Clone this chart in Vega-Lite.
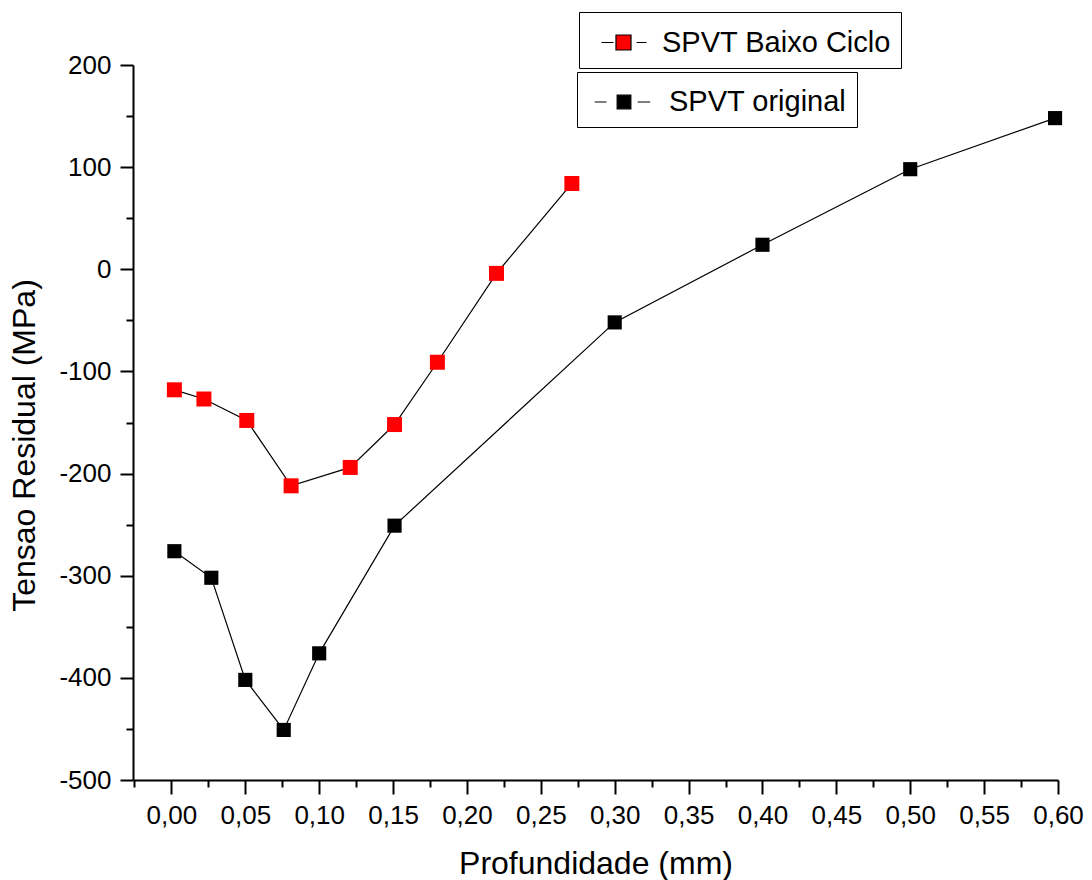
{
  "$schema": "https://vega.github.io/schema/vega-lite/v6.json",
  "width": 925,
  "height": 715,
  "autosize": "none",
  "padding": {"left": 133, "top": 65, "right": 34, "bottom": 100},
  "background": "white",
  "config": {
    "view": {"stroke": null},
    "font": "Liberation Sans",
    "axis": {"grid": false, "labelColor": "black", "titleColor": "black", "domainColor": "black", "tickColor": "black", "labelFont": "Liberation Sans", "titleFont": "Liberation Sans", "titleFontWeight": "normal"}
  },
  "datasets": {
    "original": [
      {"prof": 0.002, "tensao": -276},
      {"prof": 0.027, "tensao": -302},
      {"prof": 0.050, "tensao": -402},
      {"prof": 0.076, "tensao": -451},
      {"prof": 0.100, "tensao": -376},
      {"prof": 0.151, "tensao": -251},
      {"prof": 0.300, "tensao": -52},
      {"prof": 0.400, "tensao": 24},
      {"prof": 0.500, "tensao": 98},
      {"prof": 0.598, "tensao": 148}
    ],
    "baixo": [
      {"prof": 0.002, "tensao": -118},
      {"prof": 0.022, "tensao": -127},
      {"prof": 0.051, "tensao": -148},
      {"prof": 0.081, "tensao": -212},
      {"prof": 0.121, "tensao": -194},
      {"prof": 0.151, "tensao": -152},
      {"prof": 0.180, "tensao": -91},
      {"prof": 0.220, "tensao": -4},
      {"prof": 0.271, "tensao": 84}
    ]
  },
  "layer": [
    {
      "data": {"name": "original"},
      "mark": {"type": "point", "opacity": 0},
      "encoding": {
        "x": {"field": "prof", "type": "quantitative", "scale": {"domain": [-0.026, 0.6], "nice": false, "zero": false},
          "axis": {"orient": "bottom", "values": [-0.025, 0.025, 0.075, 0.125, 0.175, 0.225, 0.275, 0.325, 0.375, 0.425, 0.475, 0.525, 0.575], "labels": false, "domain": false, "tickSize": 7, "tickWidth": 2, "title": null}},
        "y": {"field": "tensao", "type": "quantitative", "scale": {"domain": [-500, 200], "nice": false, "zero": false},
          "axis": {"orient": "left", "values": [-450, -350, -250, -150, -50, 50, 150], "labels": false, "domain": false, "tickSize": 7, "tickWidth": 2, "title": null}}
      }
    },
    {
      "data": {"name": "original"},
      "mark": {"type": "line", "color": "black", "strokeWidth": 1.2},
      "encoding": {
        "x": {"field": "prof", "type": "quantitative",
          "axis": {"orient": "bottom", "values": [0, 0.05, 0.1, 0.15, 0.2, 0.25, 0.3, 0.35, 0.4, 0.45, 0.5, 0.55, 0.6],
            "labelExpr": "replace(format(datum.value, '.2f'), '.', ',')", "labelFontSize": 26, "labelPadding": 8, "labelFlush": false, "labelOverlap": false,
            "tickSize": 14, "tickWidth": 2, "domainWidth": 2,
            "title": "Profundidade (mm)", "titleFontSize": 32, "titleY": 93, "titleBaseline": "alphabetic"}},
        "y": {"field": "tensao", "type": "quantitative",
          "axis": {"orient": "left", "values": [-500, -400, -300, -200, -100, 0, 100, 200], "labelExpr": "'' + datum.value", "labelFontSize": 26, "labelPadding": 9, "labelFlush": false, "labelOverlap": false,
            "tickSize": 13, "tickWidth": 2, "domainWidth": 2,
            "title": "Tensao Residual (MPa)", "titleFontSize": 32, "titleAngle": 270, "titleX": -99, "titleY": 380, "titleAlign": "center", "titleBaseline": "alphabetic"}}
      }
    },
    {
      "data": {"name": "original"},
      "mark": {"type": "point", "shape": "square", "filled": true, "size": 200, "opacity": 1},
      "encoding": {
        "x": {"field": "prof", "type": "quantitative", "axis": null},
        "y": {"field": "tensao", "type": "quantitative", "axis": null},
        "color": {"datum": "SPVT original", "scale": {"range": ["#000000"]},
          "legend": {"orient": "none", "legendX": 444, "legendY": 7, "title": null, "strokeColor": "black", "padding": 10, "symbolOffset": 17,
            "symbolType": "M-1.54,0H-0.92M-0.36,-0.36H0.36V0.36H-0.36ZM0.72,0H1.38", "symbolSize": 1444,
            "symbolStrokeColor": "black", "symbolStrokeWidth": 1.2, "labelFontSize": 29, "labelFont": "Liberation Sans", "labelColor": "black", "labelOffset": 25, "labelLimit": 0,
            "encode": {"legend": {"update": {"strokeWidth": {"value": 2}}}, "symbols": {"update": {"stroke": {"value": "black"}, "strokeWidth": {"value": 1.2}}}}}}
      }
    },
    {
      "data": {"name": "baixo"},
      "mark": {"type": "line", "color": "black", "strokeWidth": 1.2},
      "encoding": {
        "x": {"field": "prof", "type": "quantitative", "axis": null},
        "y": {"field": "tensao", "type": "quantitative", "axis": null}
      }
    },
    {
      "data": {"name": "baixo"},
      "mark": {"type": "point", "shape": "square", "filled": true, "size": 225, "opacity": 1},
      "encoding": {
        "x": {"field": "prof", "type": "quantitative", "axis": null},
        "y": {"field": "tensao", "type": "quantitative", "axis": null},
        "color": {"datum": "SPVT Baixo Ciclo", "scale": {"range": ["#ff0000"]},
          "legend": {"orient": "none", "legendX": 446, "legendY": -53, "title": null, "strokeColor": "black", "padding": 10, "symbolOffset": 14,
            "symbolType": "M-1.13,0H-0.51M-0.385,-0.385H0.385V0.385H-0.385ZM0.67,0H1.18", "symbolSize": 1521,
            "symbolStrokeColor": "black", "symbolStrokeWidth": 1.2, "labelFontSize": 29, "labelFont": "Liberation Sans", "labelColor": "black", "labelOffset": 18, "labelLimit": 0,
            "encode": {"legend": {"update": {"strokeWidth": {"value": 2}}}, "symbols": {"update": {"stroke": {"value": "black"}, "strokeWidth": {"value": 1.2}}}}}}
      }
    }
  ],
  "resolve": {"scale": {"color": "independent"}, "axis": {"x": "independent", "y": "independent"}}
}
